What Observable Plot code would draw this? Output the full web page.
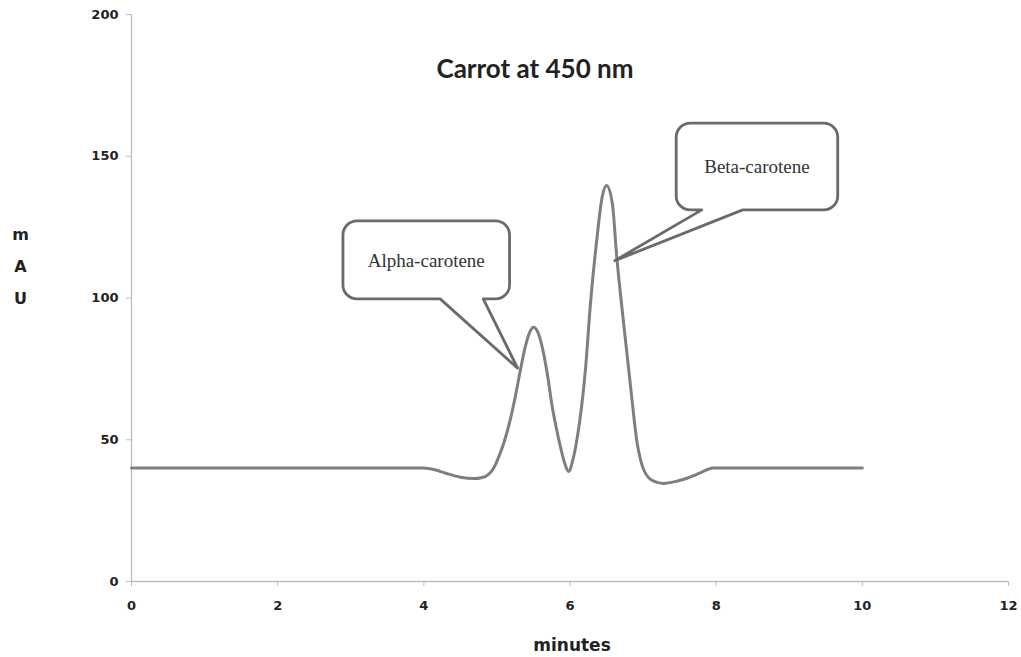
<!DOCTYPE html>
<html><head><meta charset="utf-8">
<script src="https://cdn.jsdelivr.net/npm/d3@7"></script>
<script src="https://cdn.jsdelivr.net/npm/@observablehq/plot@0.6"></script>
<style>
body{margin:0;background:#fff;}
#chart svg{display:block;}
</style>
</head><body><div id="chart"></div>
<script>
// Chromatogram trace (minutes, mAU)
const minutes = [0, 2, 4.0, 4.15, 4.3, 4.5, 4.68, 4.80, 4.87, 4.93, 4.98, 5.03, 5.09, 5.18, 5.25, 5.32, 5.39, 5.45, 5.50, 5.56, 5.64, 5.70, 5.75, 5.81, 5.87, 5.93, 5.98, 6.04, 6.10, 6.16, 6.21, 6.28, 6.37, 6.44, 6.50, 6.58, 6.64, 6.73, 6.83, 6.92, 6.97, 7.02, 7.08, 7.16, 7.28, 7.45, 7.62, 7.78, 7.90, 7.96, 8.5, 10];
const mAU     = [40, 40, 40, 39.4, 38.2, 36.8, 36.3, 36.7, 37.5, 39, 41.2, 44.3, 48.5, 56.8, 65, 74.4, 83, 88, 89.7, 88, 80.3, 71.5, 62.7, 54.5, 47.4, 41.5, 38.8, 43, 50.9, 62, 74.4, 98, 121.4, 135.6, 139.7, 133.2, 114.4, 92, 68.5, 48.6, 42.5, 38.8, 36.5, 35.2, 34.6, 35.3, 36.6, 38.3, 39.7, 40, 40, 40];

const xTicks = [0, 2, 4, 6, 8, 10, 12];
const yTicks = [0, 50, 100, 150, 200];

const titleText = "Carrot at 450 nm";
const xLabel = "minutes";
const yLabel = "m\nA\nU";

// Callouts (data coordinates)
const calloutLabels = ["Alpha-carotene", "Beta-carotene"];
const calloutX0 = [2.90, 7.46];
const calloutX1 = [5.18, 9.67];
const calloutYTop = [127, 161.5];
const calloutYBottom = [99.5, 130.9];
const calloutTailA = [4.23, 7.81];
const calloutTailB = [4.82, 8.37];
const calloutTipX = [5.29, 6.62];
const calloutTipY = [75.1, 113];

const data = minutes.map((m, i) => ({m, v: mAU[i]}));

const plot = Plot.plot({
  width: 1021,
  height: 657,
  marginLeft: 131,
  marginRight: 13,
  marginTop: 14,
  marginBottom: 76,
  x: {domain: [0, 12], ticks: xTicks},
  y: {domain: [0, 200], ticks: yTicks},
  style: {fontFamily: "DejaVu Sans", background: "#fff"},
  marks: [
    Plot.ruleY([0], {stroke: "#bdbdbd", strokeWidth: 1.3}),
    Plot.ruleX([0], {stroke: "#bdbdbd", strokeWidth: 1.3}),
    Plot.axisX(xTicks, {tickSize: 5, tickPadding: 14, stroke: "#bdbdbd", fill: "#222", fontWeight: "bold", fontSize: 13, label: null}),
    Plot.axisY(yTicks, {tickSize: 5, tickPadding: 8, stroke: "#bdbdbd", fill: "#222", fontWeight: "bold", fontSize: 13, label: null}),
    Plot.line(data, {x: "m", y: "v", stroke: "#7f7f7f", strokeWidth: 3, curve: "monotone-x"}),
    Plot.text([titleText], {frameAnchor: "top", dx: -35, dy: 45, fontFamily: "Lato", fontWeight: "bold", fontSize: 26, fill: "#222"}),
    Plot.text([xLabel], {frameAnchor: "bottom", dx: 2, dy: 69, fontFamily: "DejaVu Sans", fontWeight: "bold", fontSize: 17, fill: "#222"}),
    Plot.text([yLabel], {frameAnchor: "left", textAnchor: "middle", dx: -111, dy: -36, lineHeight: 2.0, fontFamily: "DejaVu Sans", fontWeight: "bold", fontSize: 16, fill: "#222"})
  ]
});

const sx = plot.scale("x"), sy = plot.scale("y");
const svg = d3.select(plot);
const g = svg.append("g");
calloutLabels.forEach((label, i) => {
  const l = sx.apply(calloutX0[i]), r = sx.apply(calloutX1[i]);
  const t = sy.apply(calloutYTop[i]), b = sy.apply(calloutYBottom[i]);
  const ta = sx.apply(calloutTailA[i]), tb = sx.apply(calloutTailB[i]);
  const px = sx.apply(calloutTipX[i]), py = sy.apply(calloutTipY[i]);
  const rad = 14;
  const p = d3.path();
  p.moveTo(l + rad, t);
  p.lineTo(r - rad, t);
  p.arcTo(r, t, r, t + rad, rad);
  p.lineTo(r, b - rad);
  p.arcTo(r, b, r - rad, b, rad);
  p.lineTo(tb, b);
  p.lineTo(px, py);
  p.lineTo(ta, b);
  p.lineTo(l + rad, b);
  p.arcTo(l, b, l, b - rad, rad);
  p.lineTo(l, t + rad);
  p.arcTo(l, t, l + rad, t, rad);
  p.closePath();
  g.append("path").attr("d", p.toString())
    .attr("fill", "#fff").attr("stroke", "#6a6a6a").attr("stroke-width", 2.8)
    .attr("stroke-linejoin", "round");
  g.append("text")
    .attr("x", (l + r) / 2)
    .attr("y", (t + b) / 2)
    .attr("dy", "0.35em")
    .attr("text-anchor", "middle")
    .attr("font-family", "Liberation Serif")
    .attr("font-size", 19)
    .attr("fill", "#333")
    .text(label);
});

document.getElementById("chart").appendChild(plot);
</script>
</body></html>
